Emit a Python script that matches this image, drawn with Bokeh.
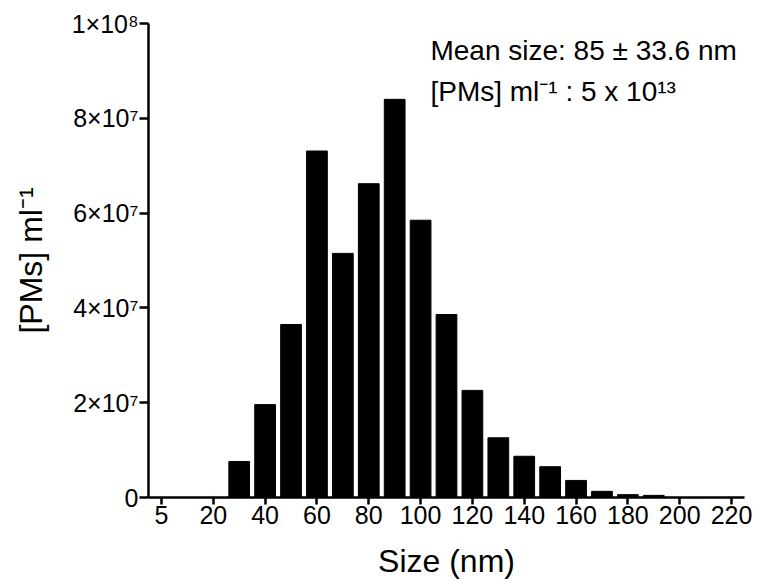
import numpy as np
from bokeh.plotting import figure
from bokeh.models import Range1d, FixedTicker, Label, ColumnDataSource
from bokeh.embed import file_html
from bokeh.resources import INLINE

# ---- data ----
size_labels = ["5", "10", "20", "30", "40", "50", "60", "70", "80", "90", "100",
               "110", "120", "130", "140", "150", "160", "170", "180", "190",
               "200", "210", "220"]
concentration = [0, 0, 0, 7.6e6, 1.96e7, 3.65e7, 7.31e7, 5.15e7, 6.62e7, 8.40e7,
                 5.85e7, 3.86e7, 2.26e7, 1.26e7, 8.7e6, 6.5e6, 3.6e6, 1.3e6,
                 0.6e6, 0.45e6, 0, 0, 0]
y_tick_values = [0, 2e7, 4e7, 6e7, 8e7, 1e8]
y_tick_labels = ["0", "2×10⁷", "4×10⁷", "6×10⁷", "8×10⁷", "1×10⁸"]
annotation_lines = ["Mean size: 85 ± 33.6 nm", "[PMs] ml⁻¹ : 5 x 10¹³"]

FONT = "Liberation Sans"

x_idx = np.arange(len(size_labels))
src = ColumnDataSource(dict(x=x_idx, top=concentration))

p = figure(width=754, height=582, output_backend="svg", toolbar_location=None,
           x_range=Range1d(-0.5, len(size_labels) - 0.5),
           y_range=Range1d(0, 1e8),
           min_border_left=148, min_border_right=10,
           min_border_top=23, min_border_bottom=85)

p.vbar(x="x", top="top", bottom=0, width=0.8, source=src,
       fill_color="black", line_color="black")

p.outline_line_color = None
p.grid.visible = False
p.background_fill_color = "white"
p.border_fill_color = "white"

# x axis
xa = p.xaxis[0]
xa.ticker = FixedTicker(ticks=list(range(0, len(size_labels), 2)))
xa.major_label_overrides = {int(i): size_labels[i] for i in range(0, len(size_labels), 2)}
xa.axis_label = "Size (nm)"

# y axis
ya = p.yaxis[0]
ya.ticker = FixedTicker(ticks=y_tick_values)
ya.major_label_overrides = {v: l for v, l in zip(y_tick_values, y_tick_labels)}
ya.axis_label = "[PMs] ml⁻¹"

for ax in (xa, ya):
    ax.axis_line_width = 2.5
    ax.axis_line_color = "black"
    ax.major_tick_line_width = 2.5
    ax.major_tick_line_color = "black"
    ax.major_tick_in = 0
    ax.minor_tick_line_color = None
    ax.major_label_text_font = FONT
    ax.major_label_text_font_size = "25px"
    ax.major_label_text_color = "black"
    ax.axis_label_text_font = FONT
    ax.axis_label_text_font_size = "32px"
    ax.axis_label_text_font_style = "normal"
    ax.axis_label_text_color = "black"

xa.major_tick_out = 7
xa.major_label_standoff = 1
xa.axis_label_standoff = 16
ya.major_tick_out = 9
ya.major_label_standoff = 1
ya.axis_label_standoff = 20

# annotation text
for line, ypos in zip(annotation_lines, [9.42e7, 8.57e7]):
    p.add_layout(Label(x=10.38, y=ypos, text=line, text_font=FONT,
                       text_font_size="28px", text_color="black",
                       text_baseline="alphabetic", text_align="left"))

open("out.html", "w").write(file_html(p, INLINE))
